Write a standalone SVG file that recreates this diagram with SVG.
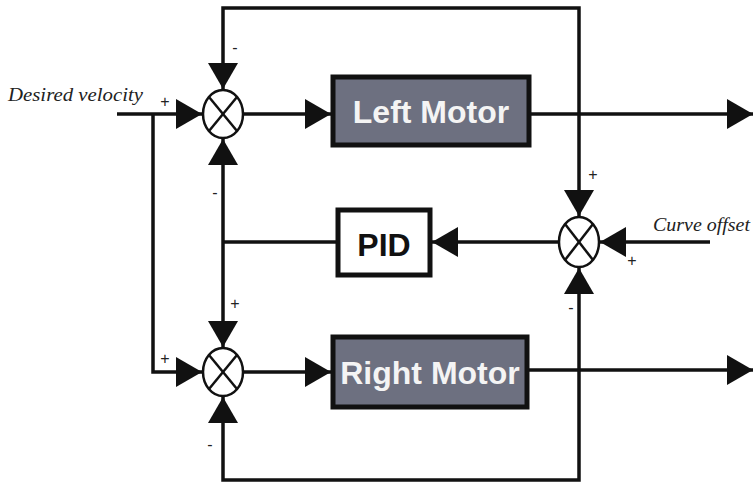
<svg xmlns="http://www.w3.org/2000/svg" width="756" height="485" viewBox="0 0 756 485">
<style>
.ln{fill:none;stroke:#111;stroke-width:3.5;stroke-linejoin:miter}
.sum{fill:#fff;stroke:#111;stroke-width:2.5}
.x{stroke:#111;stroke-width:2.5}
.motor{fill:#6d7080;stroke:#111;stroke-width:5}
.pid{fill:#fff;stroke:#111;stroke-width:5}
.bt{font-family:"Liberation Sans",Arial,sans-serif;font-weight:bold;text-anchor:middle}
.lbl{font-family:"Liberation Serif","Times New Roman",serif;font-style:italic;fill:#222}
.sg{font-family:"Liberation Sans",Arial,sans-serif;font-size:16px;fill:#222;text-anchor:middle}
</style>
<defs>
<marker id="arr" viewBox="0 0 26 30" refX="26" refY="15" markerWidth="26" markerHeight="30" markerUnits="userSpaceOnUse" orient="auto">
<path d="M0,0 L26,15 L0,30 Z" fill="#111"/>
</marker>
</defs>
<rect width="756" height="485" fill="#fff"/>
<g id="connectors">
<path class="ln" d="M117,114 H202" marker-end="url(#arr)"/>
<path class="ln" d="M153,114 V372 H202" marker-end="url(#arr)"/>
<path class="ln" d="M243,114 H331" marker-end="url(#arr)"/>
<path class="ln" d="M531,114 H753" marker-end="url(#arr)"/>
<path class="ln" d="M579,114 V8 H223 V89" marker-end="url(#arr)"/>
<path class="ln" d="M579,114 V216" marker-end="url(#arr)"/>
<path class="ln" d="M710,242 H600" marker-end="url(#arr)"/>
<path class="ln" d="M558,242 H432" marker-end="url(#arr)"/>
<path class="ln" d="M337,242 H223"/>
<path class="ln" d="M223,242 V139" marker-end="url(#arr)"/>
<path class="ln" d="M223,242 V347" marker-end="url(#arr)"/>
<path class="ln" d="M243,372 H331" marker-end="url(#arr)"/>
<path class="ln" d="M529,370 H753" marker-end="url(#arr)"/>
<path class="ln" d="M579,370 V480 H223 V397" marker-end="url(#arr)"/>
<path class="ln" d="M579,370 V268" marker-end="url(#arr)"/>
</g>
<g id="sum1">
<ellipse class="sum" cx="223" cy="114" rx="20" ry="24"/>
<line class="x" x1="209" y1="97" x2="237" y2="131"/>
<line class="x" x1="237" y1="97" x2="209" y2="131"/>
</g>
<g id="sum2">
<ellipse class="sum" cx="223" cy="372" rx="20" ry="24"/>
<line class="x" x1="209" y1="355" x2="237" y2="389"/>
<line class="x" x1="237" y1="355" x2="209" y2="389"/>
</g>
<g id="sum3">
<ellipse class="sum" cx="579" cy="242" rx="20" ry="25"/>
<line class="x" x1="565" y1="224" x2="593" y2="260"/>
<line class="x" x1="593" y1="224" x2="565" y2="260"/>
</g>
<g id="left-motor">
<rect class="motor" x="333" y="77" width="196" height="68"/>
<text class="bt" x="431" y="123" font-size="32" fill="#f4f4f4">Left Motor</text>
</g>
<g id="right-motor">
<rect class="motor" x="333" y="337" width="194" height="70"/>
<text class="bt" x="430" y="384" font-size="32" fill="#f4f4f4">Right Motor</text>
</g>
<g id="pid">
<rect class="pid" x="338" y="210" width="92" height="65"/>
<text class="bt" x="384" y="256" font-size="32" fill="#111">PID</text>
</g>
<g id="labels">
<text class="lbl" x="8" y="101" font-size="19" textLength="135" lengthAdjust="spacingAndGlyphs">Desired velocity</text>
<text class="lbl" x="653" y="231" font-size="19" textLength="97" lengthAdjust="spacingAndGlyphs">Curve offset</text>
<text class="sg" x="165" y="107">+</text>
<text class="sg" x="235" y="53">-</text>
<text class="sg" x="215" y="198">-</text>
<text class="sg" x="235" y="309">+</text>
<text class="sg" x="165" y="364">+</text>
<text class="sg" x="210" y="450">-</text>
<text class="sg" x="593" y="180">+</text>
<text class="sg" x="632" y="266">+</text>
<text class="sg" x="571" y="313">-</text>
</g>
</svg>
